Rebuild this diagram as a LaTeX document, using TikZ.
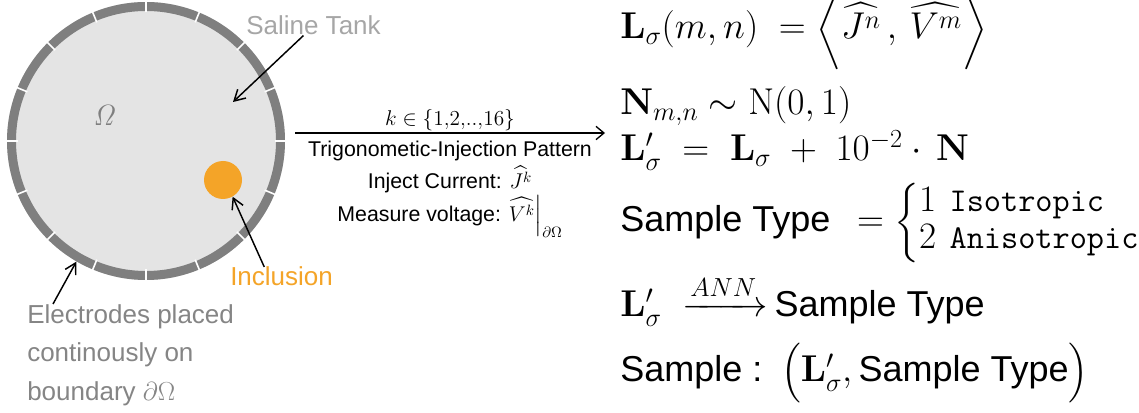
\RequirePackage{fix-cm}
\documentclass[tikz,border=0pt]{standalone}
\usepackage{amsmath}
\usepackage[no-math]{fontspec}
\setmainfont{Liberation Sans}
\usetikzlibrary{arrows.meta,positioning,calc}
\definecolor{ringgray}{HTML}{7F7F7F}
\definecolor{tankfill}{HTML}{E4E4E4}
\definecolor{labelgray}{HTML}{858585}
\definecolor{palegray}{HTML}{A6A6A6}
\definecolor{inclorange}{HTML}{F4A428}
\newcommand{\stxt}[1]{{\fontsize{27}{27}\selectfont #1}}
\newcommand{\mono}[1]{\mbox{\fontsize{25}{25}\selectfont\ttfamily #1}}

\begin{document}
\begin{tikzpicture}[x=0.75pt,y=-0.75pt,
lbl/.style={font=\fontsize{19.5}{29}\selectfont,text=labelgray,align=left,inner sep=0pt},
pointer/.style={-{Straight Barb[length=8pt,width=9pt]},line width=1.1pt},
flow/.style={-{Straight Barb[length=6pt,width=10pt]},line width=1pt},
midtxt/.style={font=\fontsize{16}{24.2}\selectfont,align=center,inner sep=0pt},
eq/.style={anchor=base west,inner sep=0pt,font=\fontsize{28}{34}\selectfont}]
\useasboundingbox (0,0) rectangle (1139,413);
% saline tank with 16 electrodes
\node[circle,fill=tankfill,minimum size=208.5pt,inner sep=0pt] (tank) at (146,141) {};
\draw[ringgray,line width=6.75pt] (tank.center) circle[radius=134.5];
\foreach \a in {0,22.5,...,337.5}
  \draw[white,line width=1.2pt] ($(tank.center)+(\a:128.5)$) -- ($(tank.center)+(\a:140.5)$);
\node[text=ringgray,font=\fontsize{22}{22}\selectfont] (omega) at (105,115) {$\mathit{\Omega}$};
\node[circle,fill=inclorange,minimum size=28.5pt,inner sep=0pt] (incl) at (223,180) {};
\coordinate (tankpt) at (233,102);
% labels
\node[lbl,text=palegray,anchor=base west] (tanklbl) at (246,35) {Saline Tank};
\node[lbl,text=inclorange,anchor=base west] (inclbl) at (230,286) {Inclusion};
\node[lbl,anchor=north west] (elbl) at (27,304) {Electrodes placed\\continously on\\boundary $\partial\Omega$};
\draw[pointer] ([xshift=-7.5pt]tanklbl.south) -- (tankpt);
\draw[pointer] ([xshift=-13pt]inclbl.north) -- (incl.-60);
\draw[pointer] ([xshift=19.5pt]elbl.north west) -- (tank.240);
% injection arrow
\coordinate (pin) at (295,133);
\coordinate (pout) at (605,133);
\draw[flow] (pin) -- (pout);
\node[midtxt,anchor=base] (kset) at (450,126) {$k\in\{1{,}2{,}..{,}16\}$};
\node[midtxt,anchor=north] (pattern) at (450,141) {Trigonometic-Injection Pattern\\Inject Current: $\widehat{J^k}$\\Measure voltage: $\widehat{V^k}\Big|_{\partial\Omega}$};
% equations
\node[eq] (gram) at (620,39) {$\mathbf{L}_\sigma(m,n)\ =\Big\langle\widehat{J^n}\,,\,\widehat{V^m}\Big\rangle$};
\node[eq] (noise) at (620,115) {$\mathbf{N}_{m,n}\sim\mathrm{N}(0,1)$};
\node[eq] (noisy) at (620,161) {$\mathbf{L}'_\sigma\;=\;\mathbf{L}_\sigma\;+\;10^{-2}\cdot\,\mathbf{N}$};
\node[eq,font=\fontsize{28}{27.5}\selectfont] (stype) at (620,232) {\stxt{Sample Type}\hspace{20pt}$=\left\{\begin{array}{@{}l@{\hspace{10pt}}l@{}}1 & \mono{Isotropic}\\ 2 & \mono{Anisotropic}\end{array}\right.$};
\node[eq] (classify) at (620,317) {$\mathbf{L}'_\sigma\;\xrightarrow{ANN}$\,\stxt{Sample Type}};
\node[eq] (pair) at (620,382) {\stxt{Sample :}\hspace{14pt}$\big(\mathbf{L}'_\sigma,$\,\stxt{Sample Type}$\big)$};
\end{tikzpicture}
\end{document}
